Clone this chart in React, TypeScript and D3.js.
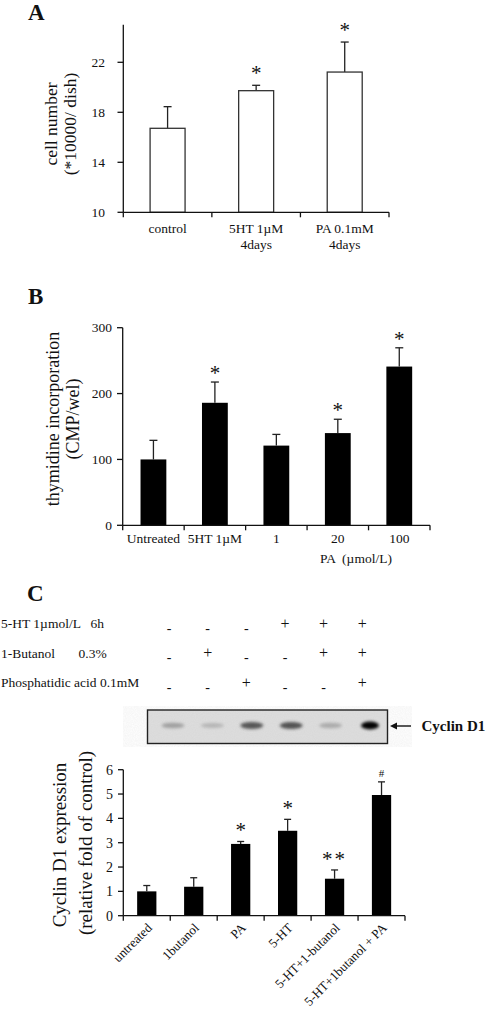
import React from "react";
import * as d3 from "d3";

// ---------- Panel A data ----------
const catsA = ["control", "5HT", "PA"];
const labelsA = [["control"], ["5HT 1µM", "4days"], ["PA 0.1mM", "4days"]];
const meansA = [16.72, 19.73, 21.22];
const errsA = [1.73, 0.43, 2.4];
const sigA = ["", "*", "*"];
const ticksA = [10, 14, 18, 22];

// ---------- Panel B data ----------
const catsB = ["Untreated", "5HT 1µM", "1", "20", "100"];
const meansB = [100, 186, 121, 140, 241];
const errsB = [29, 31.5, 17, 21, 28.5];
const sigB = ["", "*", "", "*", "*"];
const ticksB = [0, 100, 200, 300];

// ---------- Panel C data ----------
const rowLabels = ["5-HT 1µmol/L   6h", "1-Butanol       0.3%", "Phosphatidic acid 0.1mM"];
const rowSigns = [
  ["-", "-", "-", "+", "+", "+"],
  ["-", "+", "-", "-", "+", "+"],
  ["-", "-", "+", "-", "-", "+"],
];
const blotIntensity = [0.35, 0.22, 0.7, 0.72, 0.28, 0.97];
const catsC = ["untreated", "1butanol", "PA", "5-HT", "5-HT+1-butanol", "5-HT+1butanol + PA"];
const meansC = [1.0, 1.19, 2.95, 3.49, 1.52, 4.96];
const errsC = [0.24, 0.37, 0.1, 0.47, 0.36, 0.54];
const sigC = ["", "", "*", "*", "**", "#"];
const ticksC = [0, 1, 2, 3, 4, 5, 6];

const FONT = "'Liberation Serif', 'Times New Roman', serif";
const INK = "#111";

function ErrorBar({ x, y0, y1, cap = 8 }: { x: number; y0: number; y1: number; cap?: number }) {
  return (
    <g stroke="#222" strokeWidth={1.3}>
      <line x1={x} x2={x} y1={y0} y2={y1} />
      <line x1={x - cap / 2} x2={x + cap / 2} y1={y1} y2={y1} />
    </g>
  );
}

export default function App() {
  // ---- scales A ----
  const xA = d3.scaleBand<string>().domain(catsA).range([123.3, 389]).paddingInner(0.605).paddingOuter(0.3025);
  const yA = d3.scaleLinear().domain([10, 25]).range([212.3, 24.8]);
  const stepA = xA.step();

  // ---- scales B ----
  const xB = d3.scaleBand<string>().domain(catsB).range([122.7, 430]).paddingInner(0.58).paddingOuter(0.29);
  const yB = d3.scaleLinear().domain([0, 300]).range([525.3, 327.7]);
  const stepB = xB.step();

  // ---- scales C ----
  const xC = d3.scaleBand<string>().domain(catsC).range([123.3, 405]).paddingInner(0.59).paddingOuter(0.295);
  const yC = d3.scaleLinear().domain([0, 6]).range([915.7, 769.7]);
  const stepC = xC.step();

  // blot & table columns
  const colX = d3.scaleLinear().domain([0, 5]).range([169, 362.3]);
  const blotX = d3.scaleLinear().domain([0, 5]).range([173, 370]);

  return (
    <svg
      width={488}
      height={1014}
      style={{ position: "absolute", left: 0, top: 0, background: "#fff" }}
      fontFamily={FONT}
    >
      <defs>
        <filter id="blur" x="-50%" y="-50%" width="200%" height="200%">
          <feGaussianBlur stdDeviation="1.6" />
        </filter>
        <filter id="noise">
          <feTurbulence type="fractalNoise" baseFrequency="0.9" numOctaves={2} seed={3} />
          <feColorMatrix type="matrix" values="0 0 0 0 0.5  0 0 0 0 0.5  0 0 0 0 0.5  0 0 0 0.18 0" />
        </filter>
      </defs>
      <rect width={488} height={1014} fill="#fff" />

      {/* ================= Panel A ================= */}
      <text x={28} y={20} fontSize={23} fontWeight="bold" fill={INK}>A</text>
      <g fontSize={13.5} fill={INK}>
        {catsA.map((c, i) => {
          const x0 = xA(c)!;
          const w = xA.bandwidth();
          const yt = yA(meansA[i]);
          const ye = yA(meansA[i] + errsA[i]);
          return (
            <g key={c}>
              <ErrorBar x={x0 + w / 2} y0={yt} y1={ye} />
              <rect x={x0} y={yt} width={w} height={yA(10) - yt} fill="#fff" stroke="#333" strokeWidth={1.3} />
              {sigA[i] && (
                <text x={x0 + w / 2} y={ye - 5} textAnchor="middle" fontSize={21}>{sigA[i]}</text>
              )}
              {labelsA[i].map((l, j) => (
                <text key={j} x={x0 + w / 2} y={233 + j * 16} textAnchor="middle">{l}</text>
              ))}
            </g>
          );
        })}
      </g>
      <g stroke={INK} strokeWidth={1.3}>
        <line x1={123.3} x2={123.3} y1={yA(25)} y2={yA(10)} />
        <line x1={123.3} x2={389} y1={yA(10)} y2={yA(10)} />
        {ticksA.map((t) => (
          <line key={t} x1={117.5} x2={123.3} y1={yA(t)} y2={yA(t)} />
        ))}
        {d3.range(catsA.length + 1).map((i) => (
          <line key={i} x1={123.3 + i * stepA} x2={123.3 + i * stepA} y1={yA(10)} y2={yA(10) + 5} />
        ))}
      </g>
      <g fontSize={13.5} fill={INK} textAnchor="end">
        {ticksA.map((t) => (
          <text key={t} x={105} y={yA(t) + 4.5}>{t}</text>
        ))}
      </g>
      <g fontSize={17.5} fill={INK} textAnchor="middle">
        <text transform={`translate(57,124) rotate(-90)`}>cell number</text>
        <text transform={`translate(76,124) rotate(-90)`}>(*10000/ dish)</text>
      </g>

      {/* ================= Panel B ================= */}
      <text x={28} y={304} fontSize={23} fontWeight="bold" fill={INK}>B</text>
      {catsB.map((c, i) => {
        const x0 = xB(c)!;
        const w = xB.bandwidth();
        const yt = yB(meansB[i]);
        const ye = yB(meansB[i] + errsB[i]);
        return (
          <g key={c}>
            <ErrorBar x={x0 + w / 2} y0={yt} y1={ye} />
            <rect x={x0} y={yt} width={w} height={yB(0) - yt} fill="#000" />
            {sigB[i] && (
              <text x={x0 + w / 2} y={ye - 2} textAnchor="middle" fontSize={21} fill={INK}>{sigB[i]}</text>
            )}
            <text x={x0 + w / 2} y={543} textAnchor="middle" fontSize={13.5} fill={INK}>{c}</text>
          </g>
        );
      })}
      <g stroke={INK} strokeWidth={1.3}>
        <line x1={122.7} x2={122.7} y1={yB(300)} y2={yB(0)} />
        <line x1={122.7} x2={430} y1={yB(0)} y2={yB(0)} />
        {ticksB.map((t) => (
          <line key={t} x1={117} x2={122.7} y1={yB(t)} y2={yB(t)} />
        ))}
        {d3.range(catsB.length + 1).map((i) => (
          <line key={i} x1={122.7 + i * stepB} x2={122.7 + i * stepB} y1={yB(0)} y2={yB(0) + 5} />
        ))}
      </g>
      <g fontSize={13.5} fill={INK} textAnchor="end">
        {ticksB.map((t) => (
          <text key={t} x={112} y={yB(t) + 4.5}>{t}</text>
        ))}
      </g>
      <text x={356} y={563} textAnchor="middle" fontSize={13.5} fill={INK} style={{ whiteSpace: "pre" }}>
        {"PA  (µmol/L)"}
      </text>
      <g fontSize={18} fill={INK} textAnchor="middle">
        <text transform={`translate(59,419) rotate(-90)`}>thymidine incorporation</text>
        <text transform={`translate(79,419) rotate(-90)`}>(CMP/wel)</text>
      </g>

      {/* ================= Panel C ================= */}
      <text x={27} y={601} fontSize={23} fontWeight="bold" fill={INK}>C</text>
      <g fontSize={13.5} fill={INK}>
        {rowLabels.map((l, r) => (
          <g key={r}>
            <text x={1} y={628 + r * 29.7} style={{ whiteSpace: "pre" }}>{l}</text>
            {rowSigns[r].map((s, k) => (
              <text key={k} x={colX(k)} y={628 + r * 29.7 + (s === "-" ? 4.5 : 0.5)} textAnchor="middle" fontSize={s === "-" ? 14 : 16}>
                {s}
              </text>
            ))}
          </g>
        ))}
      </g>

      {/* blot */}
      <rect x={147.5} y={710} width={240} height={33.5} fill="#dedede" />
      <rect x={147.5} y={710} width={240} height={33.5} filter="url(#noise)" />
      {blotIntensity.map((v, i) => (
        <ellipse
          key={i}
          cx={blotX(i)}
          cy={725.5}
          rx={i === 5 ? 9 : 11.5}
          ry={2.2 + v * 1.8}
          fill={d3.interpolateGreys(0.35 + v * 0.65)}
          opacity={0.45 + v * 0.55}
          filter="url(#blur)"
        />
      ))}
      <rect x={147.5} y={710} width={240} height={33.5} fill="none" stroke="#222" strokeWidth={1.4} />
      <line x1={395} x2={411} y1={726} y2={726} stroke={INK} strokeWidth={1.4} />
      <path d="M390,726 L397,722.5 L397,729.5 Z" fill={INK} />
      <text x={421.5} y={731} fontSize={15} fontWeight="bold" fill={INK}>Cyclin D1</text>

      {/* C bar chart */}
      {catsC.map((c, i) => {
        const x0 = xC(c)!;
        const w = xC.bandwidth();
        const yt = yC(meansC[i]);
        const ye = yC(meansC[i] + errsC[i]);
        const cx = x0 + w / 2;
        return (
          <g key={c}>
            <ErrorBar x={cx} y0={yt} y1={ye} cap={7} />
            <rect x={x0} y={yt} width={w} height={yC(0) - yt} fill="#000" />
            {sigC[i] && (
              <text
                x={cx}
                y={sigC[i] === "#" ? ye - 5 : ye - 4}
                textAnchor="middle"
                fontSize={sigC[i] === "#" ? 11 : 21}
                letterSpacing={sigC[i] === "**" ? 2 : 0}
                fill={INK}
              >
                {sigC[i]}
              </text>
            )}
            <text
              transform={`translate(${cx + 6},${yC(0) + 13}) rotate(-45)`}
              textAnchor="end"
              fontSize={13}
              fill={INK}
            >
              {c}
            </text>
          </g>
        );
      })}
      <g stroke={INK} strokeWidth={1.3}>
        <line x1={123.3} x2={123.3} y1={yC(6)} y2={yC(0)} />
        <line x1={123.3} x2={405} y1={yC(0)} y2={yC(0)} />
        {ticksC.map((t) => (
          <line key={t} x1={118} x2={123.3} y1={yC(t)} y2={yC(t)} />
        ))}
        {d3.range(catsC.length + 1).map((i) => (
          <line key={i} x1={123.3 + i * stepC} x2={123.3 + i * stepC} y1={yC(0)} y2={yC(0) + 5} />
        ))}
      </g>
      <g fontSize={14} fill={INK} textAnchor="end">
        {ticksC.map((t) => (
          <text key={t} x={113} y={yC(t) + 5}>{t}</text>
        ))}
      </g>
      <g fontSize={19} fill={INK} textAnchor="middle">
        <text transform={`translate(66,845) rotate(-90)`}>Cyclin D1 expression</text>
        <text transform={`translate(92,843) rotate(-90)`}>(relative fold of control)</text>
      </g>
    </svg>
  );
}
